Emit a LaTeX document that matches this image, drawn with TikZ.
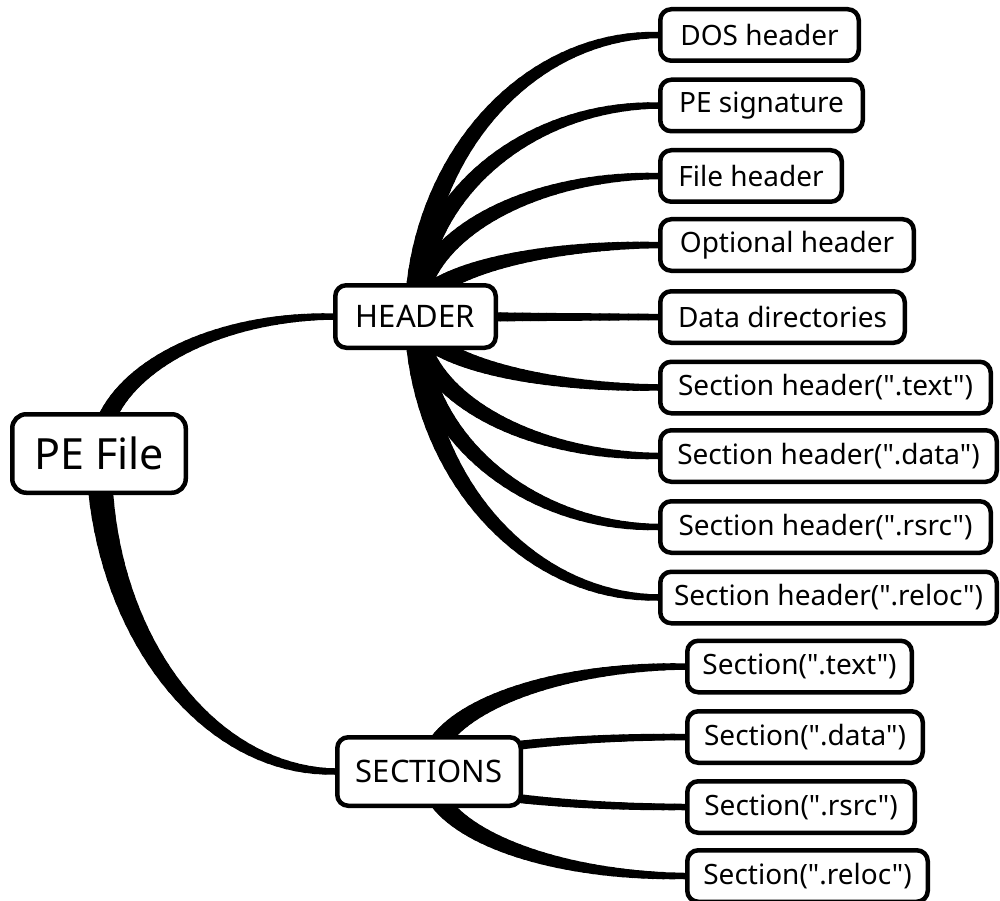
\documentclass[tikz,border=0pt]{standalone}
\usepackage{fontspec}
\setmainfont{Noto Sans}[Ligatures=TeXOff]
\usetikzlibrary{calc}
\pgfdeclarelayer{bg}
\pgfsetlayers{bg,main}
\tikzset{
  box/.style={draw, line width=4.5pt, rounded corners=11pt, fill=white, inner sep=0pt,
    font=\fontsize{28}{32}\selectfont, minimum height=51.5pt},
  hub/.style={box, font=\fontsize{31}{36}\selectfont},
  rootbox/.style={box, rounded corners=14pt, font=\fontsize{43}{48}\selectfont},
}
\newcommand\taper[4]{%
  \path let \p1=(#1.center), \p2=(#2.west) in
    (\p1) .. controls (\x1,{\y1+0.552*(\y2-\y1)}) and ({\x2-0.552*(\x2-\x1)},\y2) .. (\p2)
    foreach \i in {0,...,40}{coordinate[pos=\i/40] (tp\i)};
  \foreach \i in {0,...,39}{%
    \pgfmathtruncatemacro\j{\i+1}%
    \pgfmathsetmacro\w{#3+(#4-#3)*\i/39}%
    \draw[line width=\w pt, line cap=round] (tp\i) -- (tp\j);
  }%
}
\begin{document}
\begin{tikzpicture}[x=1pt,y=-1pt]
\useasboundingbox (0,0) rectangle (1000,901);

\node[rootbox, minimum width=173.5pt, minimum height=78.5pt] (pe) at (99,453.5) {PE File};
\node[hub, minimum width=160.5pt, minimum height=62.5pt] (hdr) at (415.5,316.5) {HEADER};
\node[hub, minimum width=183.5pt, minimum height=68.5pt] (sec) at (429,771.5) {SECTIONS};

\node[box, minimum width=198.5pt] (dos) at (759.5,35) {DOS header};
\node[box, minimum width=202.5pt] (sig) at (761.5,105.5) {PE signature};
\node[box, minimum width=181.5pt] (fh)  at (751,176) {File header};
\node[box, minimum width=253.5pt] (oh)  at (787,245) {Optional header};
\node[box, minimum width=244.5pt] (dd)  at (782.5,317) {Data directories};
\node[box, minimum width=330.5pt] (sht) at (825.5,387.5) {Section header(".text")};
\node[box, minimum width=336.5pt] (shd) at (828.5,456) {Section header(".data")};
\node[box, minimum width=330.5pt] (shr) at (825.5,527) {Section header(".rsrc")};
\node[box, minimum width=336.5pt] (shl) at (828.5,597.5) {Section header(".reloc")};

\node[box, minimum width=224.5pt] (st) at (799.5,666.5) {Section(".text")};
\node[box, minimum width=235.5pt] (sd) at (805,737) {Section(".data")};
\node[box, minimum width=227.5pt] (sr) at (801,807) {Section(".rsrc")};
\node[box, minimum width=240.5pt] (sl) at (807.5,876) {Section(".reloc")};

\begin{pgfonlayer}{bg}
  \fill[white] (0,0) rectangle (1000,901);
  \taper{pe}{hdr}{20}{6.5}
  \taper{pe}{sec}{26}{6.5}
  \taper{hdr}{dos}{22}{6.5}
  \taper{hdr}{sig}{22}{6.5}
  \taper{hdr}{fh}{22}{6.5}
  \taper{hdr}{oh}{22}{6.5}
  \taper{hdr}{dd}{12}{6.5}
  \taper{hdr}{sht}{22}{6.5}
  \taper{hdr}{shd}{22}{6.5}
  \taper{hdr}{shr}{22}{6.5}
  \taper{hdr}{shl}{22}{6.5}
  \taper{sec}{st}{22}{6.5}
  \taper{sec}{sd}{12}{6.5}
  \taper{sec}{sr}{12}{6.5}
  \taper{sec}{sl}{22}{6.5}
\end{pgfonlayer}
\end{tikzpicture}
\end{document}
